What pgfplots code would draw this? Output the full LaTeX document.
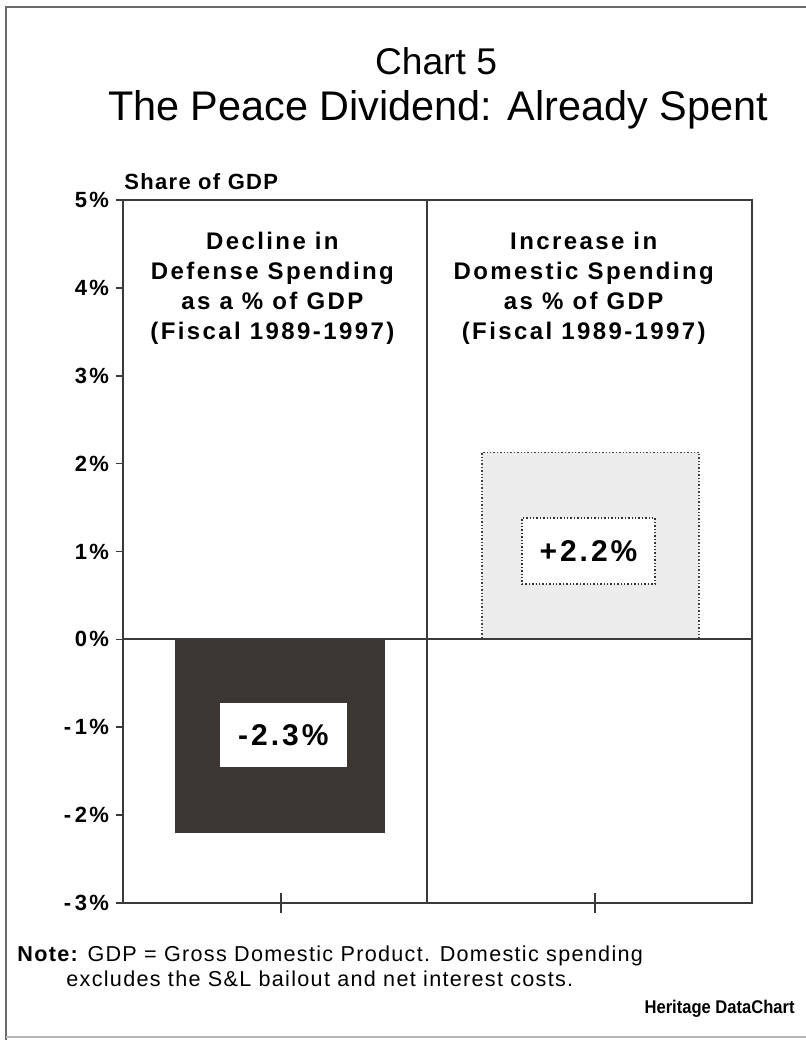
\documentclass[border=0pt]{standalone}
\usepackage{fontspec}
\setmainfont{Liberation Sans}
\newfontfamily\lsp[LetterSpace=10]{Liberation Sans}
\newfontfamily\lspn[LetterSpace=6]{Liberation Sans}
\newfontfamily\cond[FakeStretch=0.9]{Liberation Sans}
\usepackage{pgfplots}
\pgfplotsset{compat=1.18}
\definecolor{darkbar}{HTML}{3B3631}
\definecolor{lightbar}{HTML}{ECECEC}
\definecolor{axgray}{HTML}{3A3A3A}
\definecolor{framegray}{HTML}{6A6A6A}
\begin{document}
\begin{tikzpicture}
\begin{scope}[x=0.5pt,y=-0.5pt]
\fill[white] (0,0) rectangle (806,1040);
\draw[framegray, line width=1pt] (806,7) -- (6,7) -- (6,1040);
\draw[framegray!50, line width=0.8pt] (6,1037) -- (806,1037);
\node[anchor=base, font=\fontsize{18.6}{20}\selectfont] at (436,74) {Chart 5};
\node[anchor=base, font=\fontsize{20.7}{22}\selectfont] at (438,120) {The Peace Dividend: Already Spent};
\node[anchor=base west, inner sep=0pt, font=\lspn\bfseries\fontsize{11}{13}\selectfont] at (124,189) {Share of GDP};
\node[anchor=base west, inner sep=0pt, font=\lspn\fontsize{10.8}{12}\selectfont] at (17,961) {{\bfseries Note:} GDP = Gross Domestic Product. Domestic spending};
\node[anchor=base west, inner sep=0pt, font=\lspn\fontsize{10.8}{12}\selectfont] at (66,986) {excludes the S\&L bailout and net interest costs.};
\node[anchor=base east, inner sep=0pt, font=\cond\bfseries\fontsize{9.2}{10}\selectfont] at (795,1013) {Heritage DataChart};
\end{scope}
\begin{axis}[
  at={(61.5pt,-451.5pt)}, anchor=south west,
  scale only axis, width=314.5pt, height=351.5pt,
  xmin=0.5, xmax=2.5, ymin=-3, ymax=5,
  xtick=\empty,
  ytick={-3,-2,-1,0,1,2,3,4,5},
  ytick pos=left,
  yticklabels={{-\,3\%},{-\,2\%},{-\,1\%},0\%,1\%,2\%,3\%,4\%,5\%},
  yticklabel style={font=\lsp\bfseries\fontsize{11}{12}\selectfont, xshift=0pt},
  tick align=outside, major tick length=3.5pt,
  tick style={axgray, line width=0.8pt},
  axis line style={axgray, line width=0.9pt},
  clip=false,
]
\addplot[ybar, bar shift=0pt, bar width=0.665, fill=darkbar, draw=darkbar] coordinates {(1.0,-2.2)};
\addplot[ybar, bar shift=0pt, bar width=0.69, fill=lightbar, draw=black!75, densely dotted, line width=0.7pt] coordinates {(1.987,2.13)};
\draw[axgray, line width=0.9pt] (axis cs:0.5,0) -- (axis cs:2.5,0);
\draw[axgray, line width=0.9pt] (axis cs:1.467,-3) -- (axis cs:1.467,5);
\draw[axgray, line width=0.8pt] ([yshift=5pt]axis cs:1.002,-3) -- ([yshift=-5pt]axis cs:1.002,-3);
\draw[axgray, line width=0.8pt] ([yshift=5pt]axis cs:2.0,-3) -- ([yshift=-5pt]axis cs:2.0,-3);
\node[fill=white, inner sep=0pt, minimum width=63.5pt, minimum height=32pt, font=\lsp\bfseries\fontsize{15}{17}\selectfont] at (axis cs:1.01,-1.09) {-2.3\%};
\node[fill=white, draw=black!80, densely dotted, line width=0.7pt, inner sep=0pt, minimum width=66.5pt, minimum height=33pt, font=\lsp\bfseries\fontsize{15}{17}\selectfont] at (axis cs:1.98,1.007) {+2.2\%};
\node[align=center, font=\lsp\bfseries\fontsize{12}{15}\selectfont] at (axis cs:0.975,3.99) {Decline in\\Defense Spending\\as a \% of GDP\\(Fiscal 1989-1997)};
\node[align=center, font=\lsp\bfseries\fontsize{12}{15}\selectfont] at (axis cs:1.965,3.99) {Increase in\\Domestic Spending\\as \% of GDP\\(Fiscal 1989-1997)};
\end{axis}
\pgfresetboundingbox
\useasboundingbox (0pt,0pt) rectangle (403pt,-520pt);
\end{tikzpicture}
\end{document}
